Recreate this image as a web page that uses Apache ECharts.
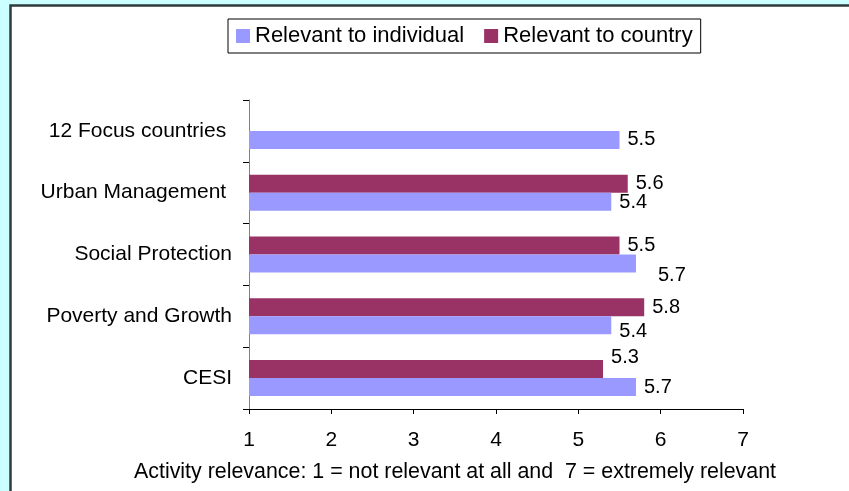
<!DOCTYPE html>
<html>
<head>
<meta charset="utf-8">
<script src="https://cdn.jsdelivr.net/npm/echarts@6/dist/echarts.min.js"></script>
<style>
  html, body { margin: 0; padding: 0; background: #ccffff; }
  #chart { width: 849px; height: 491px; }
</style>
</head>
<body>
<div id="chart"></div>
<script>
// Categories, top to bottom
const categories = ['12 Focus countries ', 'Urban Management ', 'Social Protection', 'Poverty and Growth', 'CESI'];
// Mean ratings on a 1..7 scale
const individualValues = [5.5, 5.4, 5.7, 5.4, 5.7];
const countryValues = [null, 5.6, 5.5, 5.8, 5.3];
const xTicks = [1, 2, 3, 4, 5, 6, 7];
const axisTitle = 'Activity relevance: 1 = not relevant at all and  7 = extremely relevant';

// Per-point nudges for value labels so they don't collide
const individualLabelShift = [[0, 0], [0, 1], [14, 12], [0, 6], [0, 0]];
const countryLabelShift = [[0, 0], [0, 0], [0, 0], [0, 0], [0, -12]];

function withShift(values, shifts) {
  return values.map((v, i) => v == null ? null : ({ value: v, label: { offset: shifts[i] } }));
}

const FONT = 'Liberation Sans, Arial, sans-serif';
const chart = echarts.init(document.getElementById('chart'));
chart.setOption({
  backgroundColor: '#ccffff',
  animation: false,
  graphic: [{
    type: 'rect', z: -10, silent: true,
    shape: { x: 10.5, y: 5.5, width: 900, height: 600 },
    style: { fill: '#ffffff', stroke: '#2f3b3b', lineWidth: 2.5 }
  }, {
    type: 'text', left: 134, top: 462,
    style: { text: axisTitle, font: '21.4px ' + FONT, fill: '#000' }
  }],
  legend: {
    left: 228, top: 19,
    data: ['Relevant to individual', 'Relevant to country'],
    icon: 'rect', itemWidth: 14, itemHeight: 14, itemGap: 20,
    padding: [6, 8, 6, 8],
    borderColor: '#000', borderWidth: 1, backgroundColor: '#fff',
    textStyle: { fontFamily: FONT, fontSize: 22, color: '#000' }
  },
  grid: { left: 249, right: 106, top: 100, bottom: 82 },
  xAxis: {
    type: 'value', min: 1, max: 7, interval: 1,
    splitLine: { show: false },
    axisLine: { show: true, lineStyle: { color: '#000' } },
    axisTick: { show: true, length: 5, lineStyle: { color: '#000' } },
    axisLabel: { fontFamily: FONT, fontSize: 21, color: '#000', margin: 21,
      formatter: v => xTicks.includes(v) ? String(v) : '' }
  },
  yAxis: {
    type: 'category', inverse: true, data: categories,
    axisLine: { show: true, lineStyle: { color: '#808080' } },
    axisTick: { show: true, length: 6, lineStyle: { color: '#000' } },
    axisLabel: { fontFamily: FONT, fontSize: 21, color: '#000', margin: 17 }
  },
  series: [{
    name: 'Relevant to country', type: 'bar',
    data: withShift(countryValues, countryLabelShift),
    barWidth: 18, barGap: '0%',
    itemStyle: { color: '#993366' },
    label: { show: true, position: 'right', distance: 8, fontFamily: FONT, fontSize: 20, color: '#000' }
  }, {
    name: 'Relevant to individual', type: 'bar',
    data: withShift(individualValues, individualLabelShift),
    barWidth: 18, barGap: '0%',
    itemStyle: { color: '#9999ff' },
    label: { show: true, position: 'right', distance: 8, fontFamily: FONT, fontSize: 20, color: '#000' }
  }]
});
</script>
</body>
</html>
